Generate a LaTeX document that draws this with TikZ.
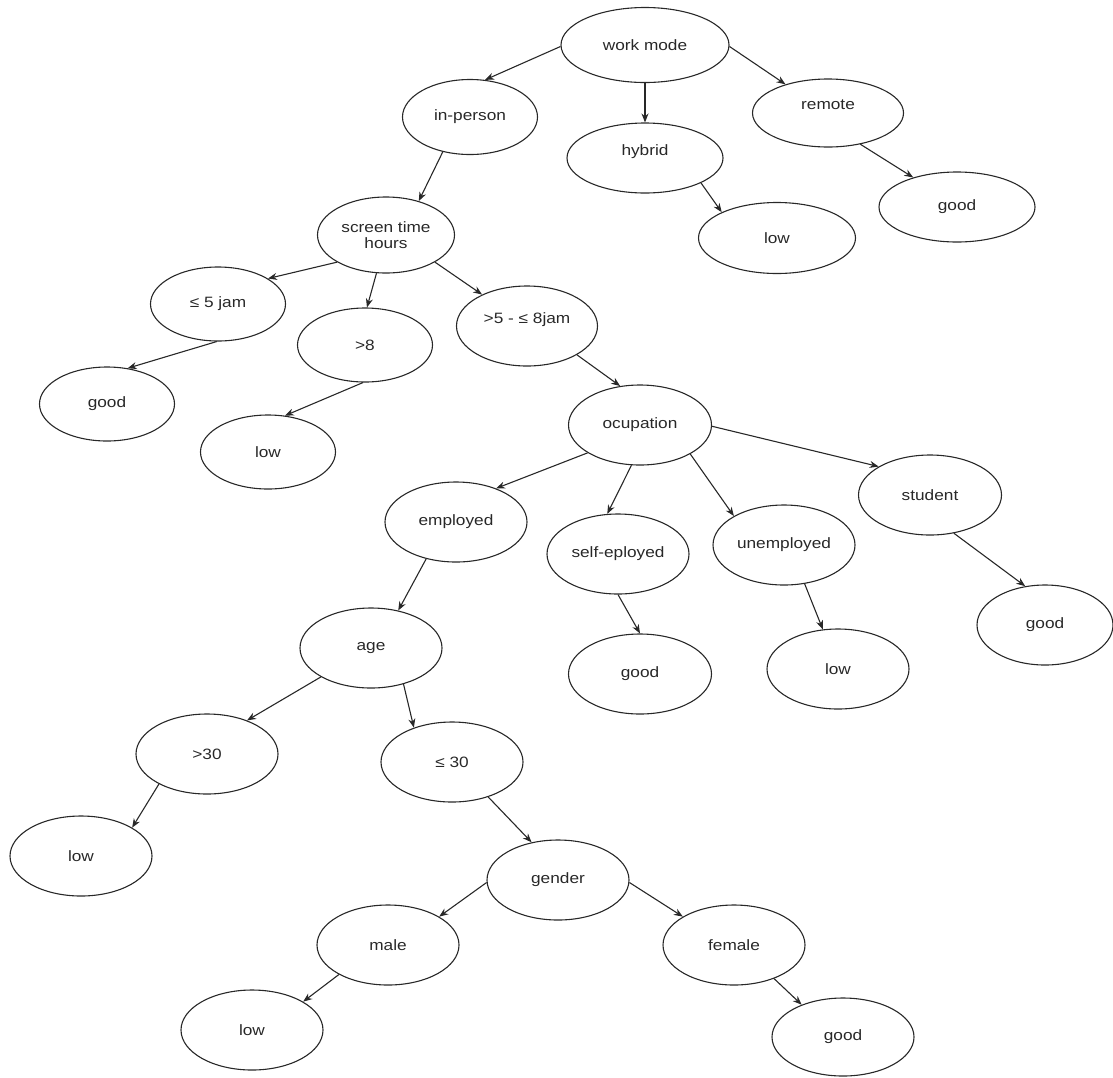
\documentclass[tikz,border=0pt]{standalone}
\usepackage{fontspec}
\setmainfont{Liberation Sans}[FakeStretch=1.15]
\usetikzlibrary{shapes.geometric, arrows.meta}
\definecolor{inkgray}{RGB}{40, 40, 40}

\begin{document}
\begin{tikzpicture}[x=1pt, y=-1pt,
  tnode/.style={draw=inkgray, ellipse, line width=1.1pt, inner sep=0pt, minimum width=142pt, minimum height=80pt, text=inkgray, font=\fontsize{15}{16}\selectfont, align=center},
  narrow/.style={minimum width=135pt, minimum height=74pt},
  raised/.style={text depth=16pt},
  arr/.style={-{Stealth[length=9pt, width=7pt]}, draw=inkgray, line width=1.1pt}
]
  \useasboundingbox (0, 0) rectangle (1113, 1077);

  \node[tnode, minimum width=168pt, minimum height=75pt] (wm) at (645, 45) {work mode};
  \node[tnode, minimum width=135pt, minimum height=75pt] (inp) at (470, 117) {in-person};
  \node[tnode, raised, minimum width=156pt, minimum height=70pt] (hyb) at (645, 158) {hybrid};
  \node[tnode, raised, minimum width=151pt, minimum height=68pt] (rem) at (828, 113) {remote};
  \node[tnode, minimum width=157pt, minimum height=71pt] (lowH) at (777, 238) {low};
  \node[tnode, minimum width=156pt, minimum height=70pt] (goodR) at (957, 207) {good};

  \node[tnode, minimum width=137pt, minimum height=76pt] (sth) at (386, 235) {screen time\\hours};
  \node[tnode, narrow] (le5) at (218, 304) {≤ 5 jam};
  \node[tnode, narrow] (gt8) at (365, 345) {>8};
  \node[tnode, raised, minimum width=141pt] (mid) at (527, 326) {>5 - ≤ 8jam};
  \node[tnode, narrow] (goodA) at (107, 404) {good};
  \node[tnode, narrow] (lowB) at (268, 452) {low};

  \node[tnode, minimum width=143pt] (ocu) at (640, 425) {ocupation};
  \node[tnode] (emp) at (456, 522) {employed};
  \node[tnode] (self) at (618, 554) {self-eployed};
  \node[tnode] (unemp) at (784, 545) {unemployed};
  \node[tnode, minimum width=143pt] (stud) at (930, 495) {student};
  \node[tnode, minimum width=143pt] (goodS) at (640, 674) {good};
  \node[tnode] (lowU) at (838, 669) {low};
  \node[tnode, minimum width=136pt] (goodT) at (1045, 625) {good};

  \node[tnode] (age) at (371, 648) {age};
  \node[tnode] (gt30) at (207, 754) {>30};
  \node[tnode] (le30) at (452, 762) {≤ 30};
  \node[tnode] (lowC) at (81, 856) {low};
  \node[tnode] (gen) at (558, 880) {gender};
  \node[tnode] (male) at (388, 945) {male};
  \node[tnode] (fem) at (734, 945) {female};
  \node[tnode] (lowD) at (252, 1030) {low};
  \node[tnode, minimum height=78pt] (goodF) at (843, 1037) {good};

  \foreach \a/\b in {wm.181/inp.68, wm.south/hyb.north, wm.-1/rem.146,
      inp.-128/sth.46, hyb.-24/lowH.155, rem.-44/goodR.146,
      sth.209/le5.27, sth.256/gt8.87, sth.-29/mid.145,
      le5.268/goodA.60, gt8.267/lowB.65, mid.-30/ocu.117,
      ocu.208/emp.40, ocu.258/self.105, ocu.-30/unemp.150, ocu.-1/stud.151,
      self.south/goodS.north, unemp.-62/lowU.111, stud.-58/goodT.117,
      emp.231/age.54, age.210/gt30.40, age.-48/le30.138,
      gt30.212/lowC.29, le30.-44/gen.125,
      gen.182/male.29, gen.-2/fem.151, male.211/lowD.29, fem.-40/goodF.142}
    \draw[arr] (\a) -- (\b);
\end{tikzpicture}
\end{document}
